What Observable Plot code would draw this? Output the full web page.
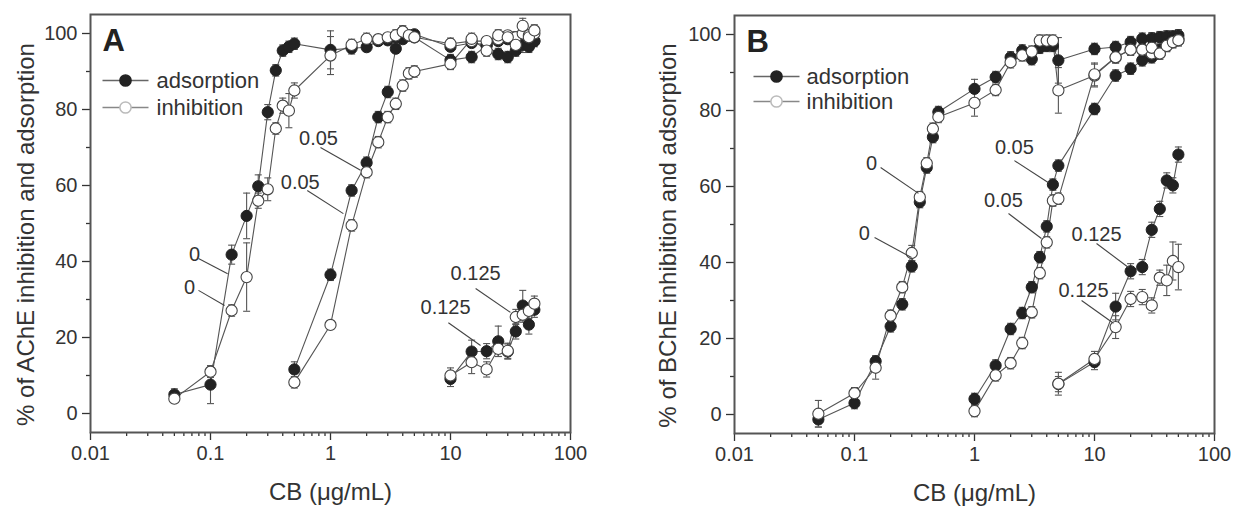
<!DOCTYPE html>
<html><head><meta charset="utf-8">
<script src="https://cdn.jsdelivr.net/npm/d3@7"></script>
<script src="https://cdn.jsdelivr.net/npm/@observablehq/plot@0.6"></script>
<style>
body{margin:0;background:#fff;}
#wrap{position:relative;width:1234px;height:506px;overflow:hidden;background:#fff;}
#wrap svg{position:absolute;top:0;}
</style></head><body><div id="wrap"></div>
<script>
// ---------- Panel A (AChE) ----------
const xA0 = [0.05,0.1,0.15,0.2,0.25,0.3,0.35,0.4,0.45,0.5,1,1.5,2,2.5,3,3.5,4,4.5,5,10,15,20,25,30,35,40,45,50];
const adsA0 = [5,7.6,41.8,52,59.8,79.3,90.3,95.5,96.5,97.3,95.7,96.1,96.4,98,98.2,99,100.5,99.5,99.8,96.5,97.5,97,98,98.5,98,99,98.5,98];
const adsA0err = [1.5,5,2.5,6,3,2,1.5,1.5,1.5,1.5,5,1.5,1,1,1,1,1.5,1,1,1,1,1.5,1,1,1,1,1.5,1];
const inhA0 = [3.9,11,27.1,35.9,56,59,75,81,79.7,85,94.2,97,98.6,98.5,99,99.5,100.5,99.5,99,97.3,98,98,98.5,99.5,99,100,99.5,100];
const inhA0err = [1,1.5,1.5,9,2,3,1.5,2,4.5,2,5,1.5,1.5,1,1,1.5,1.5,1,1,1.5,1.5,1,1.5,1,1.5,1.5,1.5,1.5];

const xA1 = [0.5,1,1.5,2,2.5,3,3.5,4,4.5,5,10,15,20,25,30,35,40,45,50];
const adsA1 = [11.6,36.5,58.7,66,78,84.6,96,98.5,99.5,99,93,93.8,96.8,94.6,93.8,95.5,97,96.5,98];
const adsA1err = [2,1.5,1.5,1.5,1.5,1.5,1,1,1,1,1.5,1.5,1.5,1.5,1.5,1.5,2,1.5,1.5];
const inhA1 = [8.2,23.3,49.5,63.5,71.4,78,81.5,86.3,89.5,90,92,98.6,95.5,99.5,99,97,102,99,100.8];
const inhA1err = [1.5,1,1.5,1.5,1.5,1.5,1.5,1.5,1.5,1.5,1.5,1.5,1.5,1.5,1.5,1.5,2,1.5,1.5];

const xA2 = [10,15,20,25,30,35,40,45,50];
const adsA2 = [9.1,16.3,16.4,19,16.3,21.6,28.4,23.4,27.3];
const adsA2err = [2,3,2,4,2,2,4,2.5,2];
const inhA2 = [10,13.5,11.6,17,16.5,25.4,26,27,28.9];
const inhA2err = [2,3,2,2,2,2,2,2,2];

// ---------- Panel B (BChE) ----------
const xB0 = [0.05,0.1,0.15,0.2,0.25,0.3,0.35,0.4,0.45,0.5,1,1.5,2,2.5,3,3.5,4,4.5,5,10,15,20,25,30,35,40,45,50];
const adsB0 = [-1.3,3,14,23.2,29,39,55.9,65,73,79.6,85.7,88.8,94,95.8,93.5,96.5,97,97,93.2,96.2,96.7,98,98.9,99,99.3,99.5,99.5,99.8];
const adsB0err = [2,1.5,1.5,1.5,1.5,1.5,1.5,1.5,1.5,1.5,2.5,1.5,1.5,1.5,1.5,1.5,1.5,1.5,6,1.5,1.5,1.5,1.5,1.5,1.5,1.5,1.5,1.5];
const inhB0 = [0.2,5.6,12.3,26,33.5,42.5,57.2,66.1,75.2,78.3,82,85.4,92.7,94.5,95.5,98.4,98.4,98.4,85.3,89.2,94,96,96,95,95,97,98,98.5];
const inhB0err = [3.5,1.5,3,1.5,1.5,2,1.5,1.5,1.5,1.5,3.5,1.5,1.5,1.5,1.5,1.5,1.5,1.5,6,3,1.5,1.5,1.5,1.5,1.5,1.5,1.5,1.5];

const xB1 = [1,1.5,2,2.5,3,3.5,4,4.5,5,10,15,20,25,30,35,40,45,50];
const adsB1 = [4.1,12.9,22.5,26.7,33.5,41.4,49.5,60.5,65.5,80.4,89.2,91,93.2,94,96,97.5,98.5,99];
const adsB1err = [1.5,1.5,1.5,1.5,1.5,1.5,1.5,1.5,1.5,1.5,1.5,1.5,1.5,1.5,1.5,1.5,1.5,1.5];
const inhB1 = [0.9,10.3,13.5,18.8,26.9,37.2,45.3,56.3,56.8,89.5,94,96,96,96.5,95,97,98,98.5];
const inhB1err = [1.5,1.5,1.5,1.5,1.5,1.5,1.5,1.5,1.5,3,1.5,1.5,1.5,1.5,1.5,1.5,1.5,1.5];

const xB2 = [5,10,15,20,25,30,35,40,45,50];
const adsB2 = [8,13.8,28.4,37.7,38.8,48.6,54.1,61.6,60.3,68.4];
const adsB2err = [2,2,3.5,2,2,2,2,2,2,2];
const inhB2 = [8.1,14.6,23,30.4,30.9,28.7,36,35.3,40.4,38.8];
const inhB2err = [3,2,3,2,2,2,2,4,5,6];

// concentration labels and their leader lines (data units)
const annA = [
  {t:"0",     tx:0.0736, ty:41.8, x1:0.0794, y1:40.8, x2:0.139, y2:36.8},
  {t:"0",     tx:0.0668, ty:33.2, x1:0.0794, y1:32.4, x2:0.131, y2:28.4},
  {t:"0.05",  tx:0.794,  ty:72.4, x1:0.825,  y1:70.0, x2:1.78,  y2:64.0},
  {t:"0.05",  tx:0.56,   ty:60.8, x1:0.64,   y1:58.7, x2:1.28,  y2:52.6},
  {t:"0.125", tx:16.2,   ty:36.8, x1:16.2,   y1:32.9, x2:31.6,  y2:26.6},
  {t:"0.125", tx:9.1,    ty:27.9, x1:9.6,    y1:23.9, x2:17.8,  y2:17.9}
];
const annB = [
  {t:"0",     tx:0.139, ty:66.0, x1:0.165, y1:65.0, x2:0.341, y2:58.2},
  {t:"0",     tx:0.121, ty:47.6, x1:0.147, y1:46.6, x2:0.299, y2:41.3},
  {t:"0.05",  tx:2.15,  ty:70.3, x1:2.15,  y1:66.8, x2:4.14,  y2:61.0},
  {t:"0.05",  tx:1.74,  ty:56.3, x1:1.92,  y1:52.9, x2:3.61,  y2:46.3},
  {t:"0.125", tx:10.4,  ty:47.4, x1:10.4,  y1:45.0, x2:19.2,  y2:38.7},
  {t:"0.125", tx:8.1,   ty:32.6, x1:7.8,   y1:30.0, x2:14.4,  y2:24.0}
];

const legendLabels = ["adsorption", "inhibition"];
const xTicks = [0.01, 0.1, 1, 10, 100];
const yTicks = [0, 20, 40, 60, 80, 100];
const yMinor = [10, 30, 50, 70, 90];
const xMinor = [];
for (const d of [0.01, 0.1, 1, 10]) for (let k = 2; k <= 9; k++) xMinor.push(+(d * k).toPrecision(3));

function rows(xs, ys, es, kind, conc) {
  return xs.map((x, i) => ({x, y: ys[i], e: es[i], kind, conc}));
}

const FONT = '"Liberation Sans", Arial, Helvetica, sans-serif';
const cap = {draw(ctx) { ctx.moveTo(-3.5, 0); ctx.lineTo(3.5, 0); }};
const seg = {draw(ctx) { ctx.moveTo(-23, 0); ctx.lineTo(23, 0); }};

function panel(cfg) {
  const ads = [...rows(cfg.x0, cfg.a0, cfg.a0e, "ads", "0"), ...rows(cfg.x1, cfg.a1, cfg.a1e, "ads", "0.05"), ...rows(cfg.x2, cfg.a2, cfg.a2e, "ads", "0.125")];
  const inh = [...rows(cfg.x0, cfg.i0, cfg.i0e, "inh", "0"), ...rows(cfg.x1, cfg.i1, cfg.i1e, "inh", "0.05"), ...rows(cfg.x2, cfg.i2, cfg.i2e, "inh", "0.125")];
  const all = [...ads, ...inh];
  const L = cfg.legend;
  return Plot.plot({
    width: cfg.width, height: 506,
    marginLeft: cfg.ml, marginRight: cfg.mr, marginTop: cfg.mt, marginBottom: 506 - cfg.mt - 418,
    style: {fontFamily: FONT, fontSize: "20px", color: "#333", background: "white", overflow: "visible"},
    x: {type: "log", domain: [0.01, 100]},
    y: {domain: [-5, 105]},
    marks: [
      Plot.axisX({ticks: xMinor, tickSize: 4, tickFormat: () => "", strokeWidth: 1.3, label: null}),
      Plot.axisX({ticks: xTicks, tickSize: 8, tickPadding: 5, tickFormat: d => String(d), strokeWidth: 1.3, fontSize: 20, label: null}),
      Plot.axisY({ticks: yMinor, tickSize: 4, tickFormat: () => "", strokeWidth: 1.3, label: null}),
      Plot.axisY({ticks: yTicks, tickSize: 8, tickPadding: 5, strokeWidth: 1.3, fontSize: 20, label: null}),
      Plot.text([cfg.xTitle], {frameAnchor: "bottom", dy: 60, textAnchor: "middle", lineAnchor: "middle", fontSize: 24, fill: "#333"}),
      Plot.text([cfg.yTitle], {frameAnchor: "left", dx: cfg.ytdx, dy: 11, rotate: -90, textAnchor: "middle", lineAnchor: "middle", fontSize: 24, fill: "#333"}),
      // connecting lines
      Plot.line(all, {x: "x", y: "y", z: d => d.kind + d.conc, stroke: "#555", strokeWidth: 1.1}),
      // error bars
      Plot.ruleX(all, {x: "x", y1: d => d.y - d.e, y2: d => d.y + d.e, stroke: "#555", strokeWidth: 1.1}),
      Plot.dot(all, {x: "x", y: d => d.y + d.e, symbol: cap, stroke: "#555", strokeWidth: 1.1, fill: "none"}),
      Plot.dot(all, {x: "x", y: d => d.y - d.e, symbol: cap, stroke: "#555", strokeWidth: 1.1, fill: "none"}),
      // points
      Plot.dot(ads, {x: "x", y: "y", r: 5.6, fill: "#222", stroke: "#222", strokeWidth: 1}),
      Plot.dot(inh, {x: "x", y: "y", r: 5.6, fill: "white", stroke: "#444", strokeWidth: 1.1}),
      // annotations
      Plot.link(cfg.ann, {x1: "x1", y1: "y1", x2: "x2", y2: "y2", stroke: "#444", strokeWidth: 1.1}),
      Plot.text(cfg.ann, {x: "tx", y: "ty", text: "t", fontSize: 20, fill: "#333", lineAnchor: "middle"}),
      // panel letter
      Plot.text([cfg.letter], {frameAnchor: "top-left", dx: 12, dy: 14, lineAnchor: "top", textAnchor: "start", fontSize: 31, fontWeight: "bold", fill: "#222"}),
      // legend
      Plot.dot([0], {frameAnchor: "top-left", dx: L.dx, dy: L.dy1, symbol: seg, stroke: "#666", strokeWidth: 1.3, fill: "none"}),
      Plot.dot([0], {frameAnchor: "top-left", dx: L.dx, dy: L.dy1, r: 5.6, fill: "#222", stroke: "#222"}),
      Plot.text([legendLabels[0]], {frameAnchor: "top-left", dx: L.tdx, dy: L.dy1, textAnchor: "start", lineAnchor: "middle", fontSize: 22, fill: "#333"}),
      Plot.dot([0], {frameAnchor: "top-left", dx: L.dx, dy: L.dy2, symbol: seg, stroke: "#888", strokeWidth: 1.3, fill: "none"}),
      Plot.dot([0], {frameAnchor: "top-left", dx: L.dx, dy: L.dy2, r: 5.6, fill: "white", stroke: "#bbb"}),
      Plot.text([legendLabels[1]], {frameAnchor: "top-left", dx: L.tdx, dy: L.dy2, textAnchor: "start", lineAnchor: "middle", fontSize: 22, fill: "#333"}),
      Plot.frame({stroke: "#555", strokeWidth: 2})
    ]
  });
}

const wrap = document.getElementById("wrap");
const svgA = panel({
  width: 600, ml: 90, mr: 30, mt: 14, letter: "A",
  xTitle: "CB (μg/mL)", yTitle: "% of AChE inhibition and adsorption", ytdx: -64,
  x0: xA0, a0: adsA0, a0e: adsA0err, i0: inhA0, i0e: inhA0err,
  x1: xA1, a1: adsA1, a1e: adsA1err, i1: inhA1, i1e: inhA1err,
  x2: xA2, a2: adsA2, a2e: adsA2err, i2: inhA2, i2e: inhA2err,
  ann: annA, legend: {dx: 35, dy1: 66, dy2: 93, tdx: 66}
});
svgA.style.left = "0px";
wrap.appendChild(svgA);

const svgB = panel({
  width: 634, ml: 134, mr: 20, mt: 15, letter: "B",
  xTitle: "CB (μg/mL)", yTitle: "% of BChE inhibition and adsorption", ytdx: -66,
  x0: xB0, a0: adsB0, a0e: adsB0err, i0: inhB0, i0e: inhB0err,
  x1: xB1, a1: adsB1, a1e: adsB1err, i1: inhB1, i1e: inhB1err,
  x2: xB2, a2: adsB2, a2e: adsB2err, i2: inhB2, i2e: inhB2err,
  ann: annB, legend: {dx: 42, dy1: 61, dy2: 86, tdx: 72}
});
svgB.style.left = "600px";
wrap.appendChild(svgB);
</script>
</body></html>
